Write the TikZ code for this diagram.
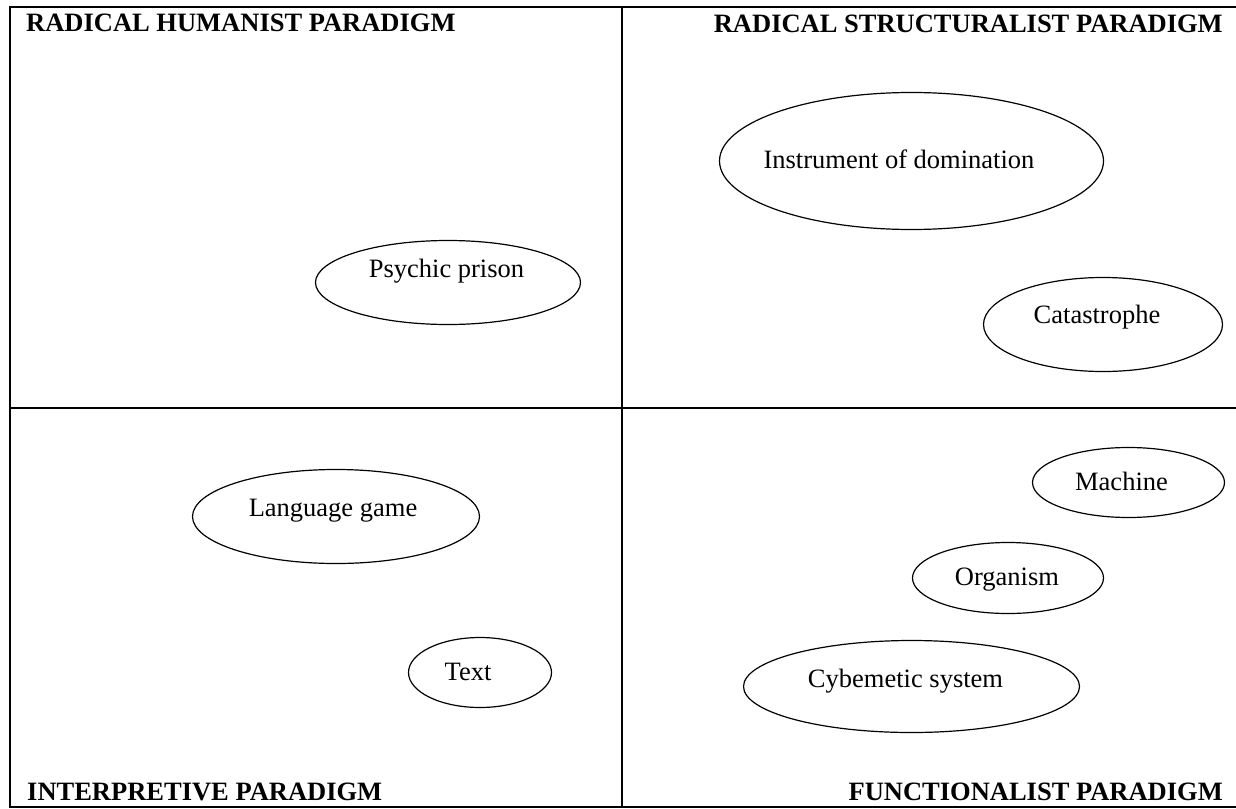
\documentclass[tikz,border=0pt]{standalone}
\usepackage{fontspec}
\setmainfont{Liberation Serif}
\usetikzlibrary{shapes.geometric}
\begin{document}
\begin{tikzpicture}[x=1pt,y=-1pt,
  frame/.style={line width=2pt,black},
  oval/.style={ellipse,draw,line width=1.2pt,inner sep=0pt,outer sep=0pt},
  txt/.style={anchor=base,inner sep=0pt,font=\fontsize{26.5}{30}\selectfont},
  head/.style={inner sep=0pt,font=\fontsize{26.5}{30}\selectfont\bfseries}]
\useasboundingbox (0,0) rectangle (1236,808);
\fill[white] (0,0) rectangle (1236,808);
% frame and quadrant lines
\coordinate (tl) at (9.5,7);
\coordinate (tr) at (1236,7);
\coordinate (bl) at (9.5,807);
\coordinate (br) at (1236,807);
\coordinate (mt) at (622,7);
\coordinate (mb) at (622,807);
\coordinate (ml) at (9.5,408);
\coordinate (mr) at (1236,408);
\draw[frame] (tr) -- (tl) -- (bl) -- (br);
\draw[frame] (mt) -- (mb);
\draw[frame] (ml) -- (mr);
% headings
\node[head,anchor=base west] (rh) at (26,32) {RADICAL HUMANIST PARADIGM};
\node[head,anchor=base east] (rs) at (1223,33) {RADICAL STRUCTURALIST PARADIGM};
\node[head,anchor=base west] (ip) at (27,800) {INTERPRETIVE PARADIGM};
\node[head,anchor=base east] (fp) at (1223,800) {FUNCTIONALIST PARADIGM};
% ellipses
\node[oval,minimum width=265pt,minimum height=84pt] (psy) at (448,282.5) {};
\node[oval,minimum width=384pt,minimum height=137pt] (ins) at (911.5,161) {};
\node[oval,minimum width=239pt,minimum height=94pt] (cat) at (1103,324.5) {};
\node[oval,minimum width=287pt,minimum height=94pt] (lan) at (336,516.5) {};
\node[oval,minimum width=143pt,minimum height=70pt] (tex) at (480,672.5) {};
\node[oval,minimum width=192pt,minimum height=70pt] (mac) at (1128.5,482.5) {};
\node[oval,minimum width=191pt,minimum height=71pt] (org) at (1008,578) {};
\node[oval,minimum width=336pt,minimum height=92pt] (cyb) at (911.5,686.5) {};
% ellipse texts
\node[txt] (psyt) at (446.5,277) {Psychic prison};
\node[txt] (inst) at (899,168) {Instrument of domination};
\node[txt] (catt) at (1097,323) {Catastrophe};
\node[txt] (lant) at (333,516) {Language game};
\node[txt] (text) at (468,680) {Text};
\node[txt] (mact) at (1121.5,490) {Machine};
\node[txt] (orgt) at (1007,585) {Organism};
\node[txt] (cybt) at (905.5,687) {Cybemetic system};
\end{tikzpicture}
\end{document}
